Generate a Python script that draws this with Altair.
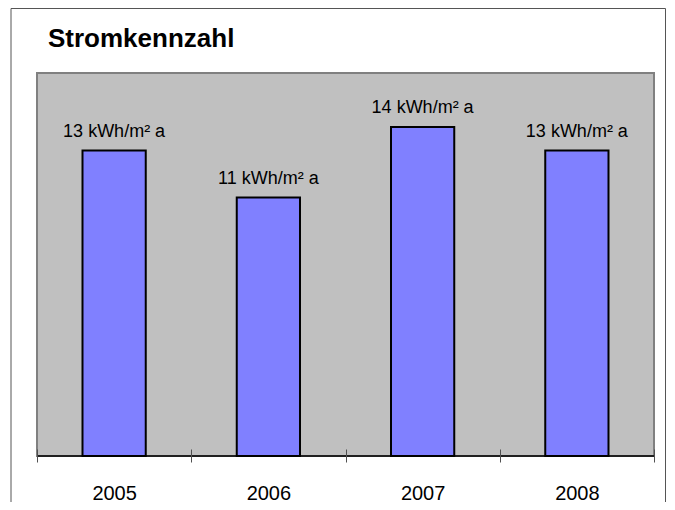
import altair as alt
import pandas as pd

years = ["2005", "2006", "2007", "2008"]
values = [13, 11, 14, 13]
labels = ["13 kWh/m² a", "11 kWh/m² a", "14 kWh/m² a", "13 kWh/m² a"]
title_text = "Stromkennzahl"

FONT = "Liberation Sans"

df = pd.DataFrame({"year": years, "value": values, "label": labels})
one = pd.DataFrame({"d": [0]})

x_enc = alt.X(
    "year:N", sort=years,
    scale=alt.Scale(paddingInner=0, paddingOuter=0),
    axis=alt.Axis(title=None, labelAngle=0, labelFontSize=20, labelFont=FONT,
                  labelColor="black", labelBaseline="alphabetic", labelPadding=37,
                  tickSize=13, offset=-7, domain=False, tickBand="extent",
                  tickColor="#505050", tickWidth=1, grid=False, zindex=1),
)
y_enc = alt.Y("value:Q", scale=alt.Scale(domain=[0, 16.3], nice=False), axis=None)

base = alt.Chart(df)
bars = base.mark_bar(color="#8080ff", stroke="black", strokeWidth=2,
                     width=alt.RelativeBandSize(0.41)).encode(x=x_enc, y=y_enc)
text = base.mark_text(dy=-14, baseline="alphabetic", fontSize=18, font=FONT,
                      color="black").encode(x=x_enc, y=y_enc, text="label:N")
axis_line = alt.Chart(one).mark_rule(color="black", strokeWidth=1.5).encode(y=alt.datum(0))

frame_left = alt.Chart(one).mark_rule(color="#555555", strokeWidth=1, clip=False).encode(
    x=alt.value(-26), y=alt.value(-64.5), y2=alt.value(430))
frame_right = alt.Chart(one).mark_rule(color="#555555", strokeWidth=1, clip=False).encode(
    x=alt.value(628.5), y=alt.value(-64.5), y2=alt.value(430))
frame_top = alt.Chart(one).mark_rule(color="#555555", strokeWidth=1, clip=False).encode(
    x=alt.value(-26), x2=alt.value(628.5), y=alt.value(-64.5))
title = alt.Chart(one).mark_text(align="left", baseline="alphabetic", fontSize=26,
                                 fontWeight="bold", font=FONT, color="black").encode(
    x=alt.value(11), y=alt.value(-26), text=alt.value(title_text))

chart = alt.layer(bars, text, axis_line, frame_left, frame_right, frame_top, title).properties(
    width=617, height=383,
    autosize=alt.AutoSizeParams(type="none"),
    padding={"left": 29, "top": 65, "right": 13, "bottom": 46},
).configure_view(fill="#c0c0c0", stroke="#808080", strokeWidth=2)

chart.save("out.html", embed_options={"renderer": "svg", "actions": False})
